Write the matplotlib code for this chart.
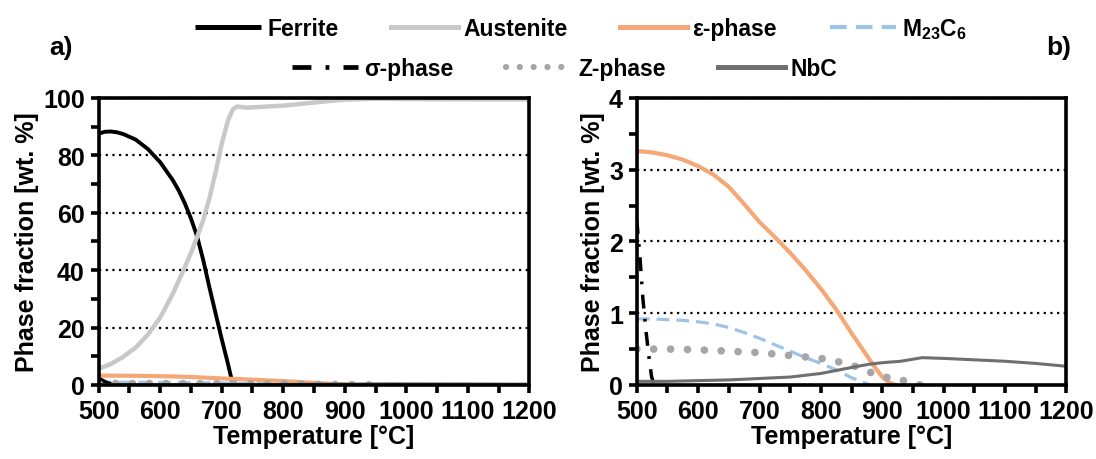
import numpy as np
import matplotlib
matplotlib.use("Agg")
import matplotlib.pyplot as plt
from matplotlib.ticker import MultipleLocator

plt.rcParams['font.family'] = ['Liberation Sans', 'DejaVu Sans']
plt.rcParams['font.weight'] = 'bold'
plt.rcParams['mathtext.fontset'] = 'custom'
plt.rcParams['mathtext.rm'] = 'Liberation Sans:bold'
plt.rcParams['mathtext.bf'] = 'Liberation Sans:bold'
plt.rcParams['mathtext.it'] = 'Liberation Sans:bold'

# --- phase fractions (wt. %) ---
T_ferrite = [500, 510, 520, 530, 540, 560, 580, 600, 620, 630, 640, 650, 660, 670, 680, 690,
             700, 710, 716, 720]
ferrite = [87.5, 88.2, 88.3, 88.0, 87.4, 85.5, 82.2, 77.6, 71.5, 67.8, 63.3, 58.0, 51.8, 43.5,
           34.0, 25.0, 16.0, 7.5, 2.0, 0.0]

T_austenite = [500, 520, 540, 560, 580, 600, 620, 640, 650, 660, 670, 680, 690, 700, 710, 718,
               725, 740, 800, 850, 900, 950, 1000, 1100, 1200]
austenite = [5.6, 7.3, 9.8, 13.0, 17.5, 23.5, 31.5, 41.0, 46.0, 51.5, 57.5, 65.0, 74.0, 84.0,
             92.0, 96.0, 97.0, 96.6, 97.3, 98.4, 99.4, 99.7, 99.6, 99.5, 99.5]

T_eps = [500, 525, 550, 575, 600, 625, 650, 675, 700, 725, 750, 775, 800, 825, 850, 870,
         885, 900, 910, 918, 922]
eps = [3.26, 3.24, 3.20, 3.14, 3.05, 2.93, 2.76, 2.52, 2.27, 2.06, 1.84, 1.60, 1.34, 1.05, 0.72,
       0.47, 0.28, 0.11, 0.04, 0.01, 0.0]

T_m23c6 = [500, 525, 550, 575, 600, 625, 650, 675, 700, 725, 750, 775, 800, 825, 850, 865, 880]
m23c6 = [0.92, 0.92, 0.91, 0.90, 0.88, 0.85, 0.80, 0.73, 0.65, 0.56, 0.47, 0.38, 0.30, 0.21, 0.10,
         0.05, 0.0]

T_sigma = [500, 505, 510, 515, 520, 524, 528]
sigma = [2.3, 1.8, 1.2, 0.75, 0.38, 0.12, 0.0]

T_z = [500, 550, 600, 650, 700, 750, 800, 830, 860, 885, 910, 935, 962]
zphase = [0.50, 0.50, 0.49, 0.47, 0.45, 0.41, 0.37, 0.32, 0.25, 0.16, 0.10, 0.06, 0.0]

T_nbc = [500, 550, 600, 650, 700, 750, 800, 830, 860, 880, 900, 930, 965, 1000, 1050, 1100, 1150, 1200]
nbc = [0.05, 0.05, 0.06, 0.07, 0.09, 0.11, 0.16, 0.21, 0.26, 0.29, 0.31, 0.33, 0.38, 0.37, 0.35,
       0.33, 0.30, 0.26]

c_aus = '#c8c8c8'
c_eps = '#f4a878'
c_m23 = '#9dc3e6'
c_z = '#a6a6a6'
c_nbc = '#6f6f6f'


def draw(ax, majors=True):
    if majors:
        ax.plot(T_ferrite, ferrite, color='black', lw=2.8, label='Ferrite', solid_capstyle='butt')
        ax.plot(T_austenite, austenite, color=c_aus, lw=3.2, label='Austenite')
    ax.plot(T_eps, eps, color=c_eps, lw=3.0, label='ε-phase')
    ax.plot(T_m23c6, m23c6, color=c_m23, lw=2.3, ls=(0, (4, 2.2)), label='M$_{23}$C$_6$')
    ax.plot(T_sigma, sigma, color='black', lw=2.5, ls=(0, (4, 3, 0.8, 3)), label='σ-phase')
    ax.plot(T_z, zphase, color=c_z, lw=5.5, ls=(0, (0.01, 2.2)), dash_capstyle='round', label='Z-phase')
    ax.plot(T_nbc, nbc, color=c_nbc, lw=2.2, label='NbC')


def style(ax, ymax, ymajor):
    ax.set_xlim(500, 1200)
    ax.set_ylim(0, ymax)
    ax.xaxis.set_major_locator(MultipleLocator(100))
    ax.xaxis.set_minor_locator(MultipleLocator(50))
    ax.yaxis.set_major_locator(MultipleLocator(ymajor))
    ax.yaxis.set_minor_locator(MultipleLocator(ymajor / 2))
    ax.tick_params(which='both', direction='out', length=6, width=2.6, labelsize=18, pad=4)
    for s in ax.spines.values():
        s.set_linewidth(2.6)
    ax.set_axisbelow(True)
    ax.yaxis.grid(True, which='major', color='black', lw=1.6, ls=(0, (1, 2)))
    ax.set_xlabel('Temperature [°C]', fontsize=18, fontweight='bold', labelpad=1)
    ax.set_ylabel('Phase fraction [wt. %]', fontsize=18, fontweight='bold', labelpad=3)


fig = plt.figure(figsize=(10.96, 4.6), dpi=100)
ax1 = fig.add_axes([0.090, 0.161, 0.393, 0.624])
ax2 = fig.add_axes([0.581, 0.161, 0.392, 0.624])

draw(ax1)
style(ax1, 100, 20)
draw(ax2, majors=False)
style(ax2, 4, 1)

fig.text(0.045, 0.895, 'a)', fontsize=19, fontweight='bold', ha='left', va='center')
fig.text(0.955, 0.895, 'b)', fontsize=19, fontweight='bold', ha='left', va='center')

h, l = ax1.get_legend_handles_labels()
leg_kw = dict(frameon=False, fontsize=16.5, handlelength=2.9, handletextpad=0.25,
              columnspacing=2.3, borderaxespad=0, borderpad=0)
leg1 = fig.legend(h[:4], l[:4], loc='center', bbox_to_anchor=(0.53, 0.935), ncol=4, **leg_kw)
leg2 = fig.legend(h[4:], l[4:], loc='center', bbox_to_anchor=(0.515, 0.848), ncol=3, **leg_kw)

# legend handles are drawn heavier than the curves in the original
for line, lw in zip(leg1.get_lines(), [3.6, 3.6, 3.6, 3.0]):
    line.set_linewidth(lw)
for line, lw in zip(leg2.get_lines(), [3.4, 4.5, 3.6]):
    line.set_linewidth(lw)

fig.savefig('out.png', dpi=100)
